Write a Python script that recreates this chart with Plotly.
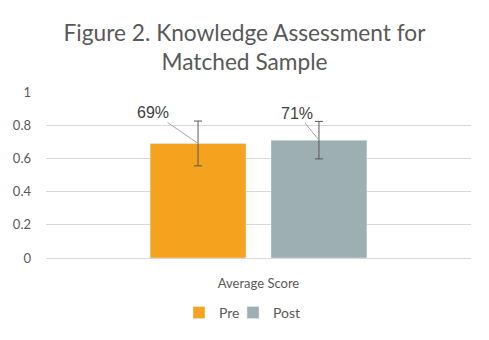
import plotly.graph_objects as go

categories = ["Average Score"]
series_names = ["Pre", "Post"]
pre_values = [0.69]
post_values = [0.71]
pre_err = [0.135]
post_err = [0.113]
labels_pre = ["69%"]
labels_post = ["71%"]
y_ticks = [0, 0.2, 0.4, 0.6, 0.8, 1]
y_tick_text = ["0", "0.2", "0.4", "0.6", "0.8", "1"]

colors = {"Pre": "#F5A31F", "Post": "#9EAFB4"}
font_main = "Lato, 'Open Sans', sans-serif"

W, H = 489, 340
ML, MR, MT, MB = 46, 18, 92, 81
BARGAP = 0.431

fig = go.Figure()
fig.add_trace(go.Bar(
    name="Pre", x=categories, y=pre_values, marker_color=colors["Pre"], legend="legend",
    error_y=dict(type="data", array=pre_err, color="#595959", thickness=1, width=4),
))
fig.add_trace(go.Bar(
    name="Post", x=categories, y=post_values, marker_color=colors["Post"], legend="legend2",
    error_y=dict(type="data", array=post_err, color="#595959", thickness=1, width=4),
))

plot_w = W - ML - MR
slot = plot_w * (1 - BARGAP) / 2
for i, (vals, labs, ax, ay) in enumerate([(pre_values, labels_pre, -45, -31), (post_values, labels_post, -22, -27)]):
    fig.add_annotation(
        x=categories[0], y=vals[0], text=labs[0], showarrow=True, arrowhead=0,
        arrowwidth=1, arrowcolor="#A6A6A6", ax=ax, ay=ay,
        xshift=(-slot / 2 if i == 0 else slot / 2),
        font=dict(family="Arial, 'Liberation Sans', sans-serif", size=16, color="#404040"),
    )

legend_style = dict(orientation="h", xanchor="left", y=-0.323, yanchor="middle",
                    font=dict(family=font_main, size=14, color="#595959"),
                    itemwidth=30, bgcolor="rgba(0,0,0,0)")

fig.update_layout(
    width=W, height=H,
    margin=dict(l=ML, r=MR, t=MT, b=MB),
    paper_bgcolor="white", plot_bgcolor="white",
    barmode="group", bargap=BARGAP, bargroupgap=0.207,
    title=dict(text="Figure 2. Knowledge Assessment for<br>Matched Sample",
               x=0.5, xanchor="center", y=0.88, yanchor="top",
               font=dict(family=font_main, size=22.7, color="#595959")),
    font=dict(family=font_main, color="#595959"),
    showlegend=True,
    legend=dict(x=0.313, **legend_style),
    legend2=dict(x=0.44, **legend_style),
    xaxis=dict(showgrid=False, showline=True, linecolor="#D9D9D9", linewidth=1,
               tickfont=dict(family=font_main, size=13, color="#595959"),
               ticklabelstandoff=13),
    yaxis=dict(range=[0, 1], tickvals=y_ticks, ticktext=y_tick_text,
               showgrid=True, gridcolor="#D9D9D9", gridwidth=1, zeroline=False,
               showline=False,
               tickfont=dict(family=font_main, size=13, color="#595959"),
               ticklabelstandoff=14),
)

fig.write_html("out.html")
